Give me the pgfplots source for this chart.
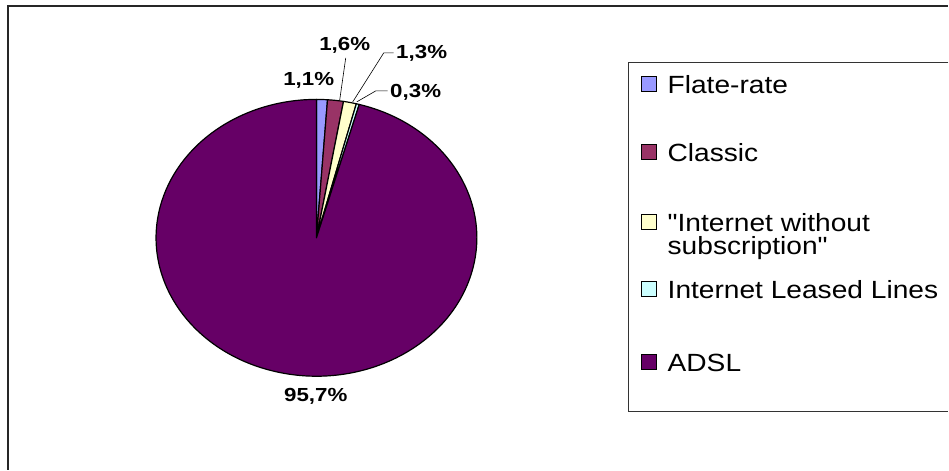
\documentclass[border=0pt]{standalone}
\usepackage{pgfplots}
\pgfplotsset{compat=1.18}
\usepackage{pgfplotstable}
\usepackage{fontspec}
\setmainfont{Liberation Sans}

\definecolor{cA}{HTML}{9999FF}
\definecolor{cB}{HTML}{993366}
\definecolor{cC}{HTML}{FFFFCC}
\definecolor{cD}{HTML}{CCFFFF}
\definecolor{cE}{HTML}{660066}

% share in percent, slice colour
\pgfplotstableread{
value col
1.1 cA
1.6 cB
1.3 cC
0.3 cD
95.7 cE
}\pietable

% text in the reference is set a little wide
\newcommand{\wlab}[1]{\scalebox{1.18}[1]{#1}}
\newcommand{\wleg}[1]{\scalebox{1.13}[1]{#1}}

\begin{document}
\begin{tikzpicture}
\begin{axis}[
    hide axis, scale only axis,
    width=949bp, height=470bp,
    xmin=0, xmax=949, ymin=0, ymax=470,
    clip=false
  ]
  % page background and outer frame
  \fill[white] (axis cs:0,0) rectangle (axis cs:949,470);
  \draw[line width=1.5bp, black!85] (axis cs:8,0) -- (axis cs:8,464) -- (axis cs:949,464);

  % pie slices, clockwise from the top
  \pgfmathsetmacro{\acc}{90}
  \pgfplotsforeachungrouped \i in {0,...,4}{
    \pgfplotstablegetelem{\i}{value}\of\pietable \let\sliceval\pgfplotsretval
    \pgfplotstablegetelem{\i}{col}\of\pietable \let\slicecol\pgfplotsretval
    \pgfmathsetmacro{\aend}{\acc-3.6*\sliceval}
    \pgfmathsetmacro{\sx}{316.7+160.5*cos(\acc)}
    \pgfmathsetmacro{\sy}{232+138.5*sin(\acc)}
    \edef\temp{\noexpand\filldraw[fill=\slicecol, draw=black, line width=1.2bp, line join=round]
      (axis cs:316.7,232) -- (axis cs:\sx,\sy)
      arc[start angle=\acc, end angle=\aend, x radius=160.5bp, y radius=138.5bp] -- cycle;}
    \temp
    \global\let\acc\aend
  }

  % data labels
  \tikzset{lab/.style={font=\bfseries\fontsize{19}{21}\selectfont, inner sep=0pt}}
  \node[lab] at (axis cs:309,390) {\wlab{1,1\%}};
  \node[lab] at (axis cs:345,425) {\wlab{1,6\%}};
  \node[lab] at (axis cs:422,417) {\wlab{1,3\%}};
  \node[lab] at (axis cs:416,378) {\wlab{0,3\%}};
  \node[lab] at (axis cs:316,73) {\wlab{95,7\%}};
  \draw[line width=0.6bp] (axis cs:346,412) -- (axis cs:340,370);
  \draw[line width=0.6bp] (axis cs:394,417) -- (axis cs:384,417) -- (axis cs:353,368);
  \draw[line width=0.6bp] (axis cs:388,379) -- (axis cs:376,379) -- (axis cs:357,368);

  % legend
  \draw[line width=1bp, black!80] (axis cs:949,407) -- (axis cs:629,407) -- (axis cs:629,58) -- (axis cs:949,58);
  \tikzset{lg/.style={anchor=west, font=\fontsize{25}{25}\selectfont, inner sep=0pt},
    lgbox/.style={draw=black, line width=1bp}}
  \filldraw[lgbox, fill=cA] (axis cs:642,378) rectangle (axis cs:657,393);
  \node[lg] at (axis cs:668,385) {\wleg{Flate-rate}};
  \filldraw[lgbox, fill=cB] (axis cs:642,310) rectangle (axis cs:657,325);
  \node[lg] at (axis cs:668,317) {\wleg{Classic}};
  \filldraw[lgbox, fill=cC] (axis cs:642,240) rectangle (axis cs:657,255);
  \node[lg] at (axis cs:668,247) {\wleg{\textquotedbl Internet without}};
  \node[lg] at (axis cs:668,222) {\wleg{subscription\textquotedbl}};
  \filldraw[lgbox, fill=cD] (axis cs:642,173) rectangle (axis cs:657,188);
  \node[lg] at (axis cs:668,180) {\wleg{Internet Leased Lines}};
  \filldraw[lgbox, fill=cE] (axis cs:642,100) rectangle (axis cs:657,115);
  \node[lg] at (axis cs:668,107) {\wleg{ADSL}};
\end{axis}
\end{tikzpicture}
\end{document}
